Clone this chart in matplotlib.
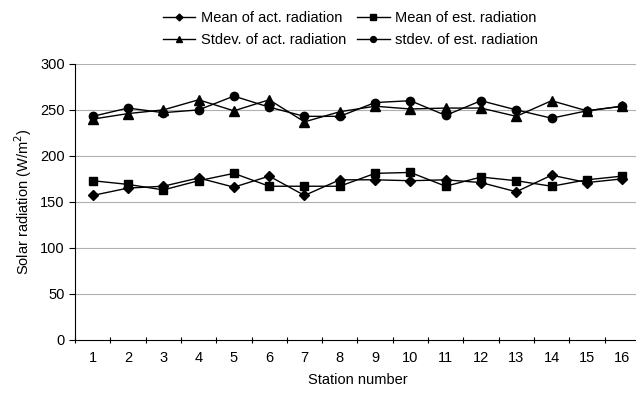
import matplotlib.pyplot as plt

plt.rcParams['font.family'] = ['Liberation Sans', 'DejaVu Sans']

# Data
stations = list(range(1, 17))
mean_act = [157, 165, 167, 176, 166, 178, 157, 174, 174, 173, 174, 171, 161, 179, 171, 175]
mean_est = [173, 169, 163, 173, 181, 167, 167, 167, 181, 182, 167, 177, 173, 167, 174, 178]
std_act = [240, 246, 250, 261, 249, 261, 237, 248, 254, 251, 252, 252, 243, 260, 249, 254]
std_est = [243, 252, 247, 250, 265, 253, 243, 243, 258, 260, 244, 260, 250, 241, 249, 254]

fig = plt.figure(figsize=(6.36, 3.97), dpi=100)
ax = fig.add_axes([0.118, 0.144, 0.888, 0.695])

for y in range(50, 301, 50):
    ax.axhline(y, color='#b0b0b0', linewidth=0.8, zorder=0)

ms = 6
l1, = ax.plot(stations, mean_act, color='black', linewidth=1, marker='D', markersize=ms - 1,
              label='Mean of act. radiation')
l2, = ax.plot(stations, mean_est, color='black', linewidth=1, marker='s', markersize=ms,
              label='Mean of est. radiation')
l3, = ax.plot(stations, std_act, color='black', linewidth=1, marker='^', markersize=ms + 0.5,
              label='Stdev. of act. radiation')
l4, = ax.plot(stations, std_est, color='black', linewidth=1, marker='o', markersize=ms,
              label='stdev. of est. radiation')

ax.set_xlim(0.5, 16.5)
ax.set_ylim(0, 300)
ax.set_yticks(range(0, 301, 50))
ax.set_xticks([x + 0.5 for x in range(0, 17)], minor=False)
ax.set_xticklabels([])
ax.set_xticks(stations, minor=True)
ax.set_xticklabels([str(s) for s in stations], minor=True)
ax.tick_params(axis='x', which='minor', length=0, pad=8, labelsize=10.5)
ax.tick_params(axis='x', which='major', length=4, direction='inout')
ax.tick_params(axis='y', length=4, labelsize=10.5)

for side in ['top', 'right']:
    ax.spines[side].set_visible(False)

ax.set_xlabel('Station number', fontsize=10.5, labelpad=6)
ax.set_ylabel('Solar radiation (W/m$^2$)', fontsize=10.5)

# row-wise order: legend fills columns first
fig.legend(handles=[l1, l3, l2, l4], loc='upper left', bbox_to_anchor=(0.235, 1.005),
           ncol=2, frameon=False, fontsize=10.5, handlelength=2.2, handletextpad=0.4,
           columnspacing=0.8, labelspacing=0.55, markerscale=0.7)

fig.savefig('out.png', dpi=100)
